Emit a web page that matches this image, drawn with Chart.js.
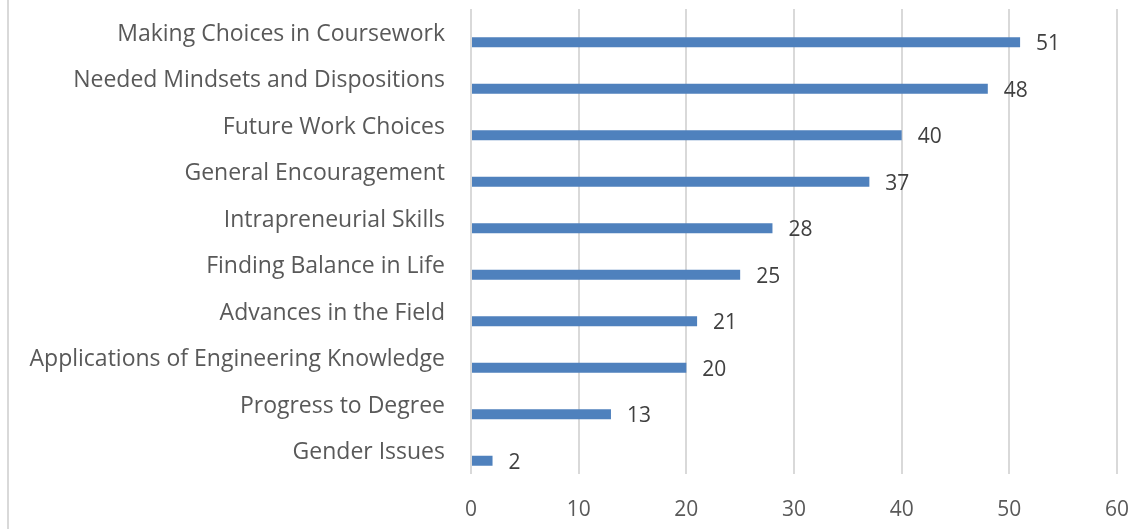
<!DOCTYPE html>
<html>
<head>
<meta charset="utf-8">
<script src="https://cdn.jsdelivr.net/npm/chart.js@4"></script>
<style>
  html, body { margin: 0; padding: 0; background: #fff; }
  #wrap { position: relative; width: 1143px; height: 529px; }
</style>
</head>
<body>
<div id="wrap"><canvas id="topics-chart"></canvas></div>
<script>
const categories = [
  "Making Choices in Coursework",
  "Needed Mindsets and Dispositions",
  "Future Work Choices",
  "General Encouragement",
  "Intrapreneurial Skills",
  "Finding Balance in Life",
  "Advances in the Field",
  "Applications of Engineering Knowledge",
  "Progress to Degree",
  "Gender Issues",
];
const counts = [51, 48, 40, 37, 28, 25, 21, 20, 13, 2];
const xMin = 0;
const xMax = 60;
const xStep = 10;

const textColor = "#595959";
const fontFamily = "'Open Sans', 'Liberation Sans', sans-serif";

// value labels to the right of each bar + left frame line
const barLabels = {
  id: "barLabels",
  afterDatasetsDraw(chart) {
    const ctx = chart.ctx;
    const meta = chart.getDatasetMeta(1);
    ctx.save();
    ctx.font = "21px " + fontFamily;
    ctx.fillStyle = "#404040";
    ctx.textAlign = "left";
    ctx.textBaseline = "middle";
    meta.data.forEach((bar, i) => {
      ctx.fillText(String(counts[i]), bar.x + 16, bar.y + 2);
    });
    ctx.strokeStyle = "#d9d9d9";
    ctx.lineWidth = 2;
    ctx.beginPath();
    ctx.moveTo(8, 0);
    ctx.lineTo(8, chart.height);
    ctx.stroke();
    ctx.restore();
  },
};

new Chart(document.getElementById("topics-chart").getContext("2d"), {
  type: "bar",
  data: {
    labels: categories,
    datasets: [
      { label: "spacer", data: categories.map(() => null), backgroundColor: "transparent" },
      { label: "Count", data: counts, backgroundColor: "#4f81bd" },
    ],
  },
  options: {
    indexAxis: "y",
    responsive: true,
    maintainAspectRatio: false,
    animation: false,
    categoryPercentage: 0.86,
    barPercentage: 0.5,
    layout: { padding: { top: 9, right: 26, bottom: 0, left: 0 } },
    plugins: {
      legend: { display: false },
      tooltip: { enabled: false },
    },
    scales: {
      x: {
        min: xMin,
        max: xMax,
        afterFit(scale) {
          scale.height = 55;
          scale.paddingLeft = 0;
          scale.paddingRight = 0;
        },
        grid: { color: "#d9d9d9", lineWidth: 2, drawTicks: false },
        border: { display: false },
        ticks: {
          stepSize: xStep,
          padding: 23,
          color: textColor,
          font: { family: fontFamily, size: 21 },
        },
      },
      y: {
        afterFit(scale) {
          scale.width = 471;
          scale.paddingTop = 0;
          scale.paddingBottom = 0;
        },
        grid: { display: false },
        border: { display: false },
        ticks: {
          padding: 18,
          labelOffset: 2,
          color: textColor,
          font: { family: fontFamily, size: 23 },
        },
      },
    },
  },
  plugins: [barLabels],
});
</script>
</body>
</html>
